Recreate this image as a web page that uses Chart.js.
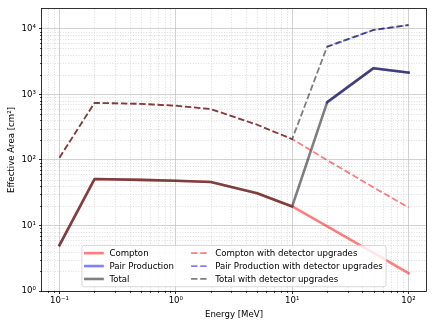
<!DOCTYPE html>
<html lang="en">
<head>
<meta charset="UTF-8">
<title>Effective Area</title>
<script src="https://cdn.jsdelivr.net/npm/chart.js"></script>
<style>
    html, body { margin: 0; padding: 0; background: #fff; }
    #wrap { width: 436px; height: 325px; }
</style>
</head>
<body>
<div id="wrap"><canvas id="myChart" width="436" height="325"></canvas></div>
<script>
// energies [MeV]
const energy = [0.1, 0.2, 0.5, 1, 2, 5, 10, 20, 50, 100];

// effective area [cm^2]
const compton     = [5, 51, 49.5, 48, 46, 31, 19.5, 9.7, 3.8, 1.87];
const pairProd    = [null, null, null, null, null, null, null, 752, 2500, 2140];
const total       = [5, 51, 49.5, 48, 46, 31, 19.5, 762, 2504, 2142];
const comptonUp   = [108, 740, 715, 670, 595, 343, 207, 99, 38, 18.8];
const pairProdUp  = [null, null, null, null, null, null, null, 5270, 9560, 11380];
const totalUp     = [108, 740, 715, 670, 595, 343, 207, 5370, 9600, 11400];

const labels = ['Compton', 'Pair Production', 'Total',
    'Compton with detector upgrades', 'Pair Production with detector upgrades', 'Total with detector upgrades'];

const xTicks = [0.1, 1, 10, 100];
const yTicks = [1, 10, 100, 1000, 10000];

const RED = 'rgba(255,0,0,0.5)';
const BLUE = 'rgba(0,0,255,0.5)';
const GRAY = 'rgba(0,0,0,0.5)';
const DASH = [6.4, 2.75];
const FONT = 'DejaVu Sans';
const FS = 8.6;

const sup = {'-': '\u207B', '0': '\u2070', '1': '\u00B9', '2': '\u00B2', '3': '\u00B3', '4': '\u2074'};
function powLabel(v) {
    const e = String(Math.round(Math.log10(v)));
    return '10' + e.split('').map(c => sup[c]).join('');
}

function pts(arr) {
    return energy.map((e, i) => ({x: e, y: arr[i]}));
}

function ds(i, arr, color, dashed, order) {
    return {
        label: labels[i],
        data: pts(arr),
        borderColor: color,
        borderWidth: dashed ? 1.8 : 2.6,
        borderDash: dashed ? DASH : [],
        borderCapStyle: dashed ? 'butt' : 'square',
        borderJoinStyle: 'round',
        pointRadius: 0,
        fill: false,
        tension: 0,
        spanGaps: false,
        order: order
    };
}

// minor grid + minor tick marks + frame
const minorGrid = {
    id: 'minorGrid',
    beforeDatasetsDraw(chart) {
        const c = chart.ctx, a = chart.chartArea;
        const sx = chart.scales.x, sy = chart.scales.y;
        c.save();
        c.strokeStyle = '#d4d4d4';
        c.lineWidth = 0.8;
        c.setLineDash([1, 1.6]);
        const xs = [], ys = [];
        for (let p = -2; p <= 2; p++) for (let m = 2; m <= 9; m++) {
            const v = m * Math.pow(10, p);
            if (v > sx.min && v < sx.max) xs.push(v);
        }
        for (let p = 0; p <= 4; p++) for (let m = 2; m <= 9; m++) {
            const v = m * Math.pow(10, p);
            if (v > sy.min && v < sy.max) ys.push(v);
        }
        xs.forEach(v => {
            const px = Math.round(sx.getPixelForValue(v)) + 0.5;
            c.beginPath(); c.moveTo(px, a.top); c.lineTo(px, a.bottom); c.stroke();
        });
        ys.forEach(v => {
            const py = Math.round(sy.getPixelForValue(v)) + 0.5;
            c.beginPath(); c.moveTo(a.left, py); c.lineTo(a.right, py); c.stroke();
        });
        c.setLineDash([]);
        c.strokeStyle = '#000';
        c.lineWidth = 0.7;
        xs.forEach(v => {
            const px = Math.round(sx.getPixelForValue(v)) + 0.5;
            c.beginPath(); c.moveTo(px, a.bottom); c.lineTo(px, a.bottom + 2); c.stroke();
        });
        ys.forEach(v => {
            const py = Math.round(sy.getPixelForValue(v)) + 0.5;
            c.beginPath(); c.moveTo(a.left, py); c.lineTo(a.left - 2, py); c.stroke();
        });
        c.restore();
    },
    afterDatasetsDraw(chart) {
        const c = chart.ctx, a = chart.chartArea;
        c.save();
        c.strokeStyle = '#000';
        c.lineWidth = 0.8;
        c.strokeRect(Math.round(a.left) - 0.5, Math.round(a.top) - 0.5,
            Math.round(a.right - a.left) + 1, Math.round(a.bottom - a.top) + 1);
        c.restore();
    }
};

// two column legend, lower center
const legendBox = {
    id: 'legendBox',
    afterDatasetsDraw(chart) {
        const c = chart.ctx, a = chart.chartArea;
        const em = FS;
        c.save();
        c.font = FS + 'px "' + FONT + '"';
        const w1 = Math.max(...labels.slice(0, 3).map(t => c.measureText(t).width));
        const w2 = Math.max(...labels.slice(3).map(t => c.measureText(t).width));
        const bp = 0.4 * em, hl = 2 * em, hp = 0.8 * em, cs = 2 * em, rowH = em, ls = 0.5 * em;
        const W = 2 * bp + 2 * (hl + hp) + cs + w1 + w2;
        const H = 2 * bp + 3 * rowH + 2 * ls;
        const left = (a.left + a.right) / 2 - W / 2;
        const top = a.bottom - 0.5 * em - H;

        c.beginPath();
        if (c.roundRect) c.roundRect(left, top, W, H, 2.5); else c.rect(left, top, W, H);
        c.fillStyle = 'rgba(255,255,255,0.8)';
        c.fill();
        c.strokeStyle = 'rgba(204,204,204,0.8)';
        c.lineWidth = 0.9;
        c.stroke();

        const colors = [RED, BLUE, GRAY, RED, BLUE, GRAY];
        c.textBaseline = 'middle';
        c.fillStyle = '#000';
        for (let i = 0; i < 6; i++) {
            const col = i < 3 ? 0 : 1, row = i % 3;
            const x0 = left + bp + (col ? hl + hp + w1 + cs : 0);
            const y = top + bp + rowH / 2 + row * (rowH + ls);
            c.beginPath();
            c.strokeStyle = colors[i];
            c.lineWidth = col ? 1.8 : 2.6;
            c.lineCap = col ? 'butt' : 'square';
            c.setLineDash(col ? DASH : []);
            c.moveTo(x0, y); c.lineTo(x0 + hl, y); c.stroke();
            c.setLineDash([]);
            c.fillText(labels[i], x0 + hl + hp, y + 0.5);
        }
        c.restore();
    }
};

const ctx = document.getElementById('myChart').getContext('2d');
const myChart = new Chart(ctx, {
    type: 'line',
    data: {
        datasets: [
            ds(0, compton, RED, false, 6),
            ds(1, pairProd, BLUE, false, 5),
            ds(2, total, GRAY, false, 4),
            ds(3, comptonUp, RED, true, 3),
            ds(4, pairProdUp, BLUE, true, 2),
            ds(5, totalUp, GRAY, true, 1)
        ]
    },
    options: {
        responsive: false,
        animation: false,
        devicePixelRatio: 1,
        layout: { padding: { top: 9, right: 10, left: 0, bottom: 0 } },
        plugins: { legend: { display: false }, tooltip: { enabled: false } },
        scales: {
            x: {
                type: 'logarithmic',
                bounds: 'data',
                min: Math.pow(10, -1.15),
                max: Math.pow(10, 2.15),
                afterBuildTicks: s => { s.ticks = xTicks.map(v => ({value: v, major: true})); },
                afterFit: s => { s.height = 34; },
                ticks: {
                    autoSkip: false, maxRotation: 0, padding: 2,
                    color: '#000', font: { family: FONT, size: FS },
                    callback: v => powLabel(v)
                },
                grid: { color: '#c6c6c6', lineWidth: 0.8, tickColor: '#000', tickLength: 3, tickWidth: 0.8 },
                border: { display: false },
                title: {
                    display: true, text: 'Energy [MeV]', color: '#000',
                    font: { family: FONT, size: FS }, padding: { top: 0, bottom: 5 }
                }
            },
            y: {
                type: 'logarithmic',
                bounds: 'data',
                min: 1,
                max: 20000,
                afterBuildTicks: s => { s.ticks = yTicks.map(v => ({value: v, major: true})); },
                afterFit: s => { s.width = 42; },
                ticks: {
                    autoSkip: false, padding: 3,
                    color: '#000', font: { family: FONT, size: FS },
                    callback: v => powLabel(v)
                },
                grid: { color: '#c6c6c6', lineWidth: 0.8, tickColor: '#000', tickLength: 3, tickWidth: 0.8 },
                border: { display: false },
                title: {
                    display: true, text: 'Effective Area [cm\u00B2]', color: '#000',
                    font: { family: FONT, size: FS }, padding: { top: 6.5, bottom: 0 }
                }
            }
        }
    },
    plugins: [minorGrid, legendBox]
});
</script>
</body>
</html>
